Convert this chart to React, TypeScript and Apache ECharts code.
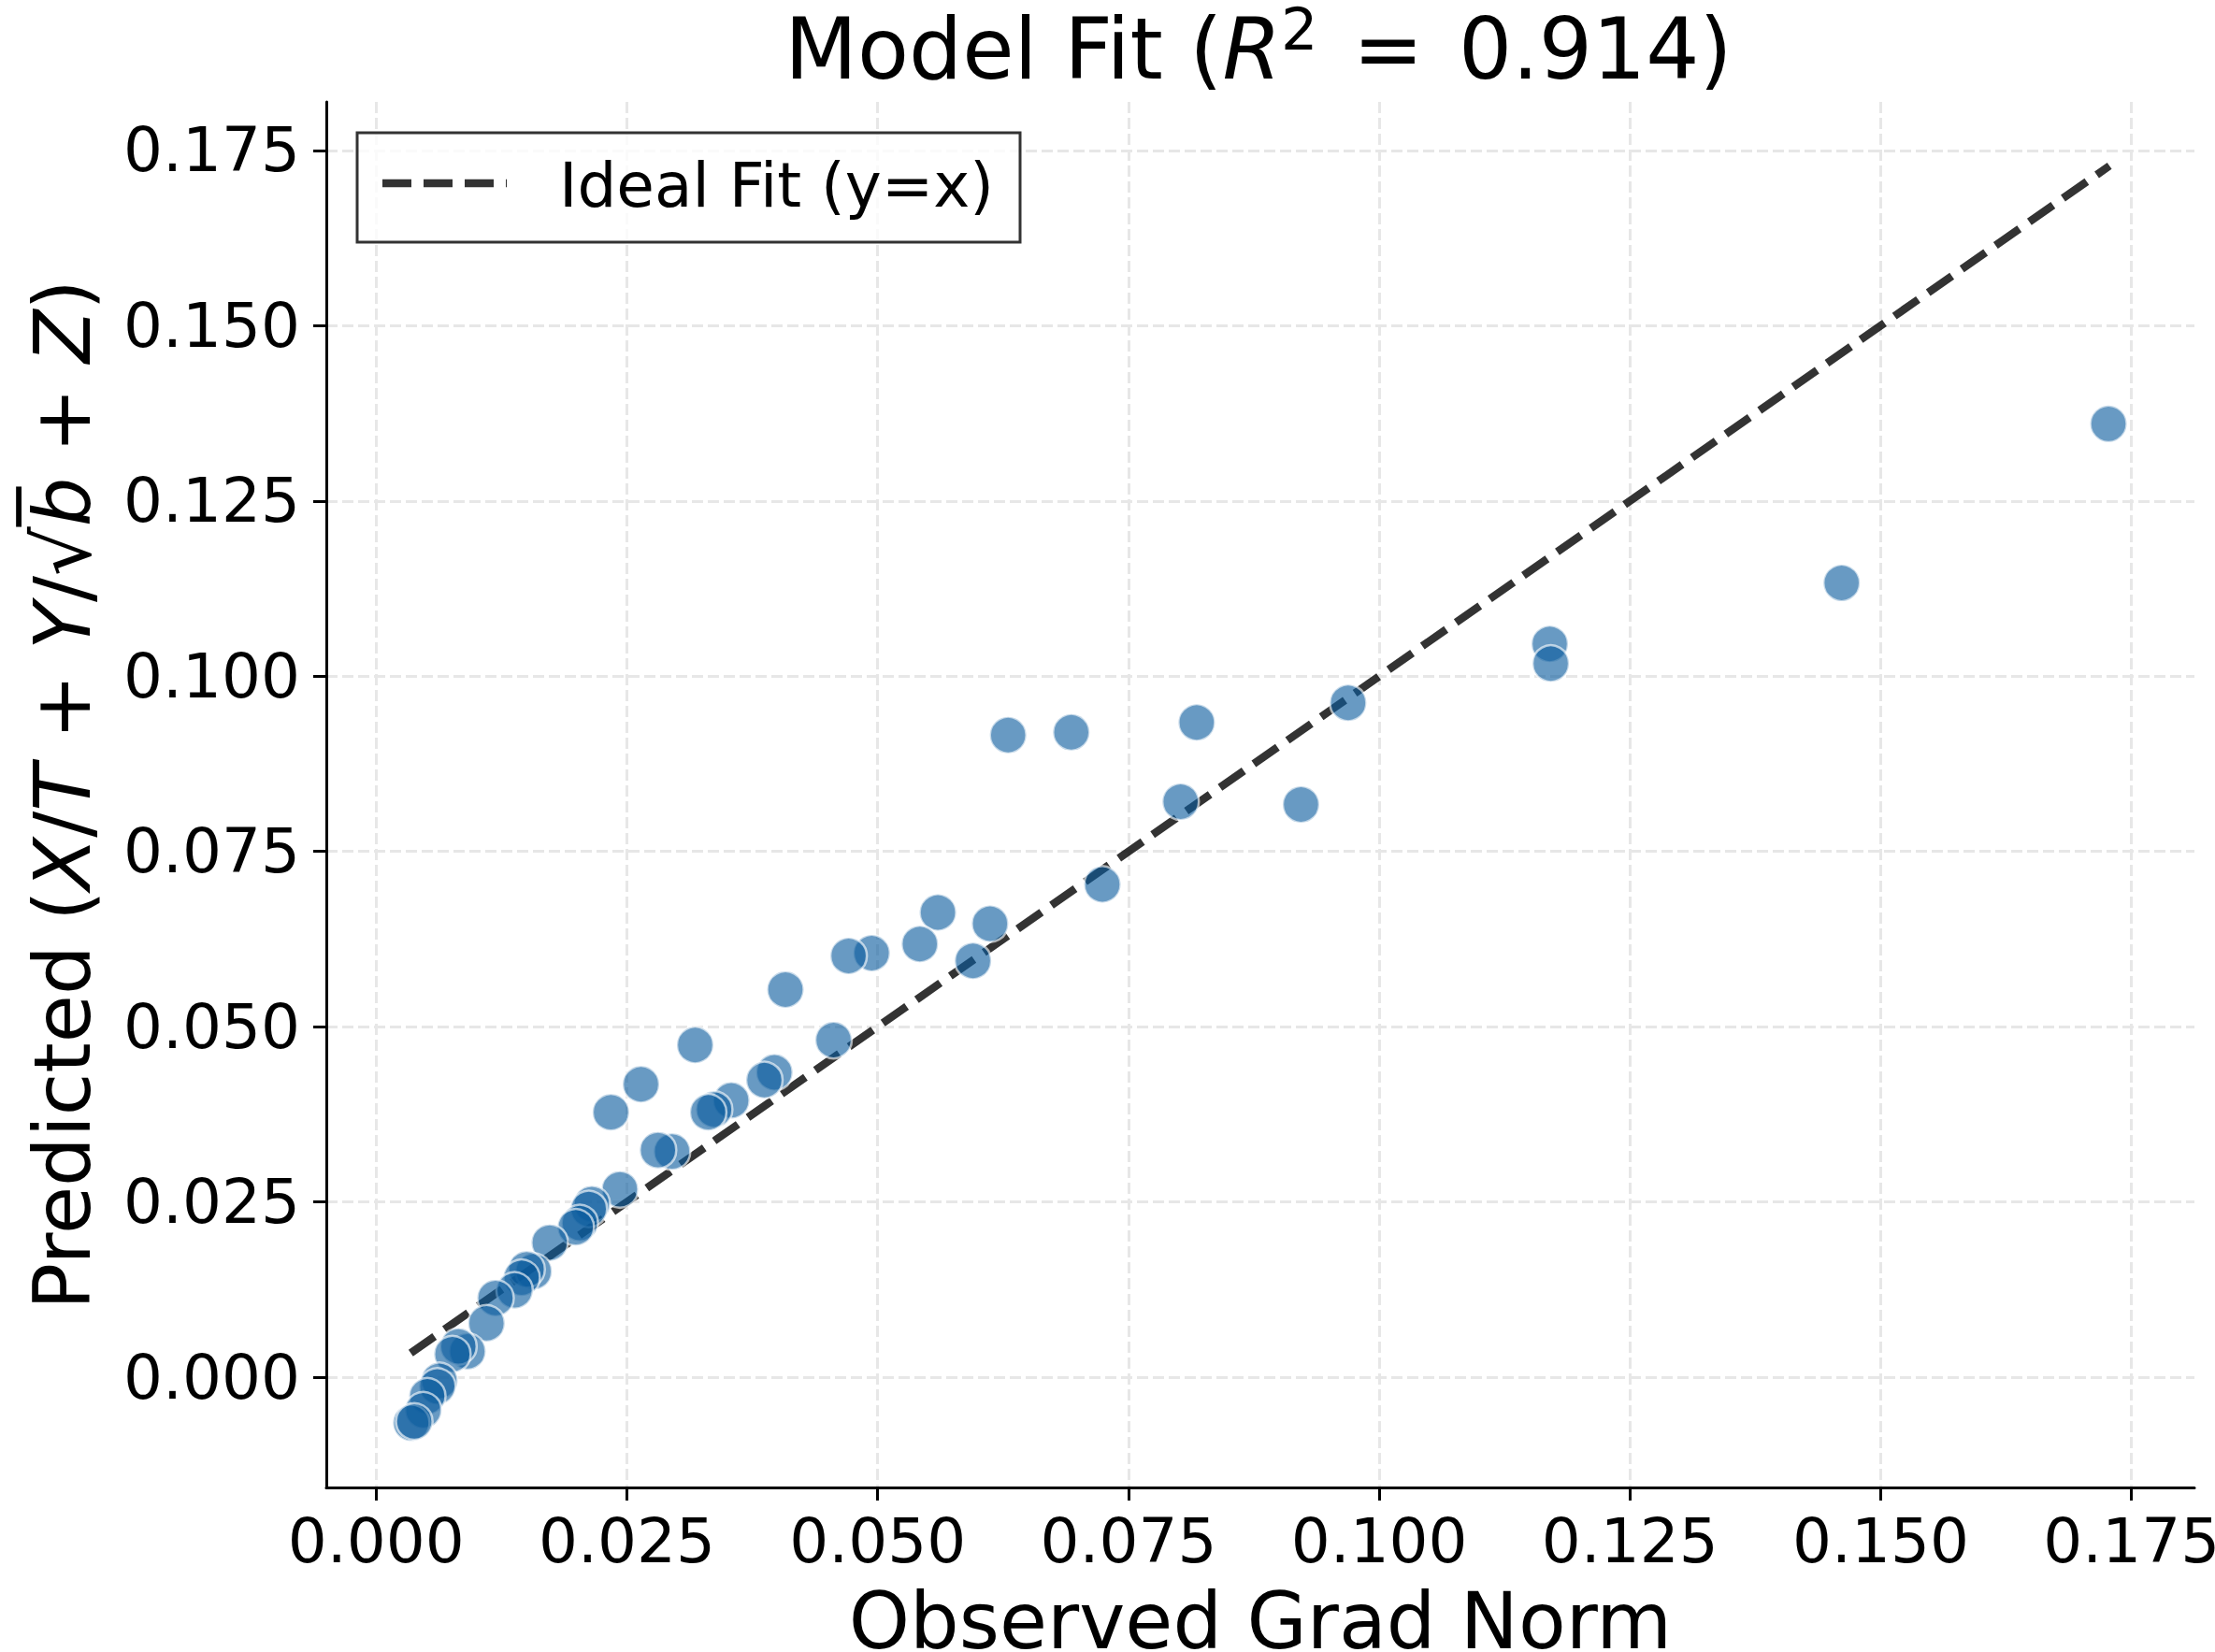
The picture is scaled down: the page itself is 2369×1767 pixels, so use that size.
import React, { useEffect, useRef } from "react";
import * as echarts from "echarts";

// Observed gradient norms and the model's predicted values
const observed = [
  0.1727, 0.1461, 0.117, 0.1171, 0.0969, 0.0922, 0.0818, 0.0802, 0.0724, 0.0693,
  0.063, 0.0612, 0.0595, 0.056, 0.0542, 0.0494, 0.0471, 0.0456, 0.0408, 0.0397,
  0.0387, 0.0354, 0.0337, 0.0331, 0.0318, 0.0295, 0.0281, 0.0264, 0.0234, 0.0243,
  0.0215, 0.0212, 0.0203, 0.0199, 0.0173, 0.0157, 0.015, 0.0145, 0.0138, 0.0119,
  0.011, 0.0091, 0.0082, 0.0076, 0.0063, 0.0061, 0.0051, 0.0047, 0.0035, 0.0038,
];
const predicted = [
  0.136, 0.1133, 0.1046, 0.1018, 0.0962, 0.0817, 0.0934, 0.0821, 0.0703, 0.092,
  0.0916, 0.0647, 0.0594, 0.0663, 0.0618, 0.0605, 0.0601, 0.0481, 0.0553, 0.0435,
  0.0424, 0.0395, 0.0382, 0.0378, 0.0474, 0.0322, 0.0324, 0.0418, 0.0378, 0.0268,
  0.0247, 0.024, 0.022, 0.0214, 0.0192, 0.0151, 0.0154, 0.0142, 0.0124, 0.0113,
  0.0077, 0.0037, 0.0044, 0.0033, -0.0005, -0.0013, -0.0027, -0.0047, -0.0065, -0.0063,
];

// y = x reference line over the observed range
const idealFitX = [0.00345, 0.1728];

const tickValues = [0, 0.025, 0.05, 0.075, 0.1, 0.125, 0.15, 0.175];

const xRange = [-0.00497, 0.18127];
const yRange = [-0.01572, 0.18192];

const FONT = "DejaVu Sans";

export default function App() {
  const ref = useRef<HTMLDivElement>(null);

  useEffect(() => {
    const chart = echarts.init(ref.current!, null, { renderer: "svg" });

    const axisCommon = {
      type: "value",
      nameLocation: "middle",
      axisLine: { show: true, onZero: false, lineStyle: { color: "#000", width: 3 } },
      axisTick: {
        show: true,
        customValues: tickValues,
        length: 14,
        lineStyle: { color: "#000", width: 3 },
      },
      axisLabel: {
        customValues: tickValues,
        formatter: (v: number) => v.toFixed(3),
        fontSize: 66,
        fontFamily: FONT,
        color: "#000",
      },
      splitLine: {
        show: true,
        lineStyle: { color: "#e7e7e7", width: 3, type: [12, 5] },
      },
    };

    chart.setOption({
      animation: false,
      backgroundColor: "#fff",
      grid: { left: 349, right: 22, top: 109, bottom: 176, outerBoundsMode: "none" },
      xAxis: {
        ...axisCommon,
        min: xRange[0],
        max: xRange[1],
        axisLabel: { ...axisCommon.axisLabel, margin: 24 },
        name: "Observed Grad Norm",
        nameGap: 102,
        nameTextStyle: { fontSize: 83, fontFamily: FONT, color: "#000" },
      },
      yAxis: {
        ...axisCommon,
        min: yRange[0],
        max: yRange[1],
        axisLabel: { ...axisCommon.axisLabel, margin: 28 },
        name: "{n|Predicted (}{i|X}{n|/}{i|T}{n| + }{i|Y}{n|/√}{i|b\u0305}{n| + }{i|Z}{n|)}",
        nameRotate: 90,
        nameGap: 240,
        nameTextStyle: {
          fontSize: 83,
          fontFamily: FONT,
          color: "#000",
          rich: {
            n: { fontSize: 83, fontFamily: FONT, color: "#000" },
            i: { fontSize: 83, fontFamily: FONT, fontStyle: "italic", color: "#000" },
          },
        },
      },
      series: [
        {
          type: "line",
          data: idealFitX.map((v) => [v, v]),
          symbol: "none",
          silent: true,
          z: 2,
          lineStyle: { color: "rgba(0,0,0,0.8)", width: 8.5, type: [31, 13] },
        },
        {
          type: "scatter",
          data: observed.map((x, i) => [x, predicted[i]]),
          symbol: "circle",
          symbolSize: 39,
          z: 3,
          itemStyle: {
            color: "#0b5c9e",
            opacity: 0.62,
            borderColor: "#ffffff",
            borderWidth: 2.5,
          },
        },
      ],
      graphic: [
        {
          type: "text",
          x: 1346,
          y: 0,
          z: 100,
          style: {
            text: "{n|Model Fit (}{i|R}{s|2}{n| \u200a=\u200a 0.914)}",
            align: "center",
            verticalAlign: "top",
            fontFamily: FONT,
            fontSize: 90,
            fill: "#000",
            rich: {
              n: { fontSize: 90, lineHeight: 104, fontFamily: FONT, fill: "#000", color: "#000" },
              i: { fontSize: 90, lineHeight: 104, fontFamily: FONT, fontStyle: "italic", fill: "#000", color: "#000" },
              s: { fontSize: 62, lineHeight: 64, fontFamily: FONT, verticalAlign: "top", fill: "#000", color: "#000" },
            },
          },
        },
        {
          type: "rect",
          z: 100,
          shape: { x: 382, y: 142, width: 709, height: 117 },
          style: { fill: "rgba(255,255,255,0.8)", stroke: "rgba(0,0,0,0.8)", lineWidth: 3 },
        },
        {
          type: "line",
          z: 101,
          shape: { x1: 409, y1: 196, x2: 542, y2: 196 },
          style: { stroke: "rgba(0,0,0,0.8)", lineWidth: 8.5, lineDash: [31, 13] },
        },
        {
          type: "text",
          z: 101,
          x: 598,
          y: 198,
          style: {
            text: "Ideal Fit (y=x)",
            fontFamily: FONT,
            fontSize: 66,
            fill: "#000",
            verticalAlign: "middle",
            align: "left",
          },
        },
      ],
    });

    return () => chart.dispose();
  }, []);

  return (
    <div
      ref={ref}
      style={{ position: "fixed", left: 0, top: 0, width: 2369, height: 1767, background: "#fff" }}
    />
  );
}
